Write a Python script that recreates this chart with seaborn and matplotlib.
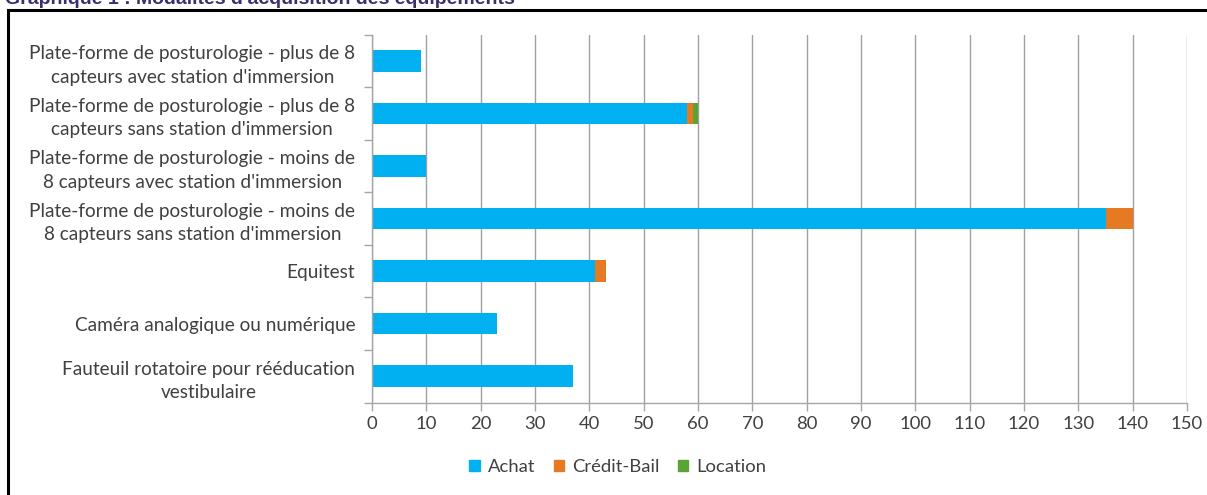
import matplotlib
matplotlib.use("Agg")
import matplotlib.pyplot as plt
import matplotlib.patches as mpatches
from matplotlib.ticker import MultipleLocator, FixedLocator
import seaborn as sns
import pandas as pd
import numpy as np

categories = [
    "Plate-forme de posturologie - plus de 8\ncapteurs avec station d'immersion",
    "Plate-forme de posturologie - plus de 8\ncapteurs sans station d'immersion",
    "Plate-forme de posturologie - moins de\n8 capteurs avec station d'immersion",
    "Plate-forme de posturologie - moins de\n8 capteurs sans station d'immersion",
    "Equitest",
    "Caméra analogique ou numérique",
    "Fauteuil rotatoire pour rééducation\nvestibulaire",
]
achat = [9, 58, 10, 135, 41, 23, 37]
credit_bail = [0, 1, 0, 5, 2, 0, 0]
location = [0, 1, 0, 0, 0, 0, 0]

series_names = ["Achat", "Crédit-Bail", "Location"]
series_colors = ["#00b0f0", "#e67a23", "#58a535"]

sns.set_theme(style="white")
plt.rcParams["font.family"] = ["Lato", "DejaVu Sans"]

df = pd.DataFrame({
    "cat": categories,
    "Achat": achat,
    "Crédit-Bail": credit_bail,
    "Location": location,
})
# cumulative ends for stacking
df["end_achat"] = df["Achat"]
df["end_cb"] = df["Achat"] + df["Crédit-Bail"]
df["end_loc"] = df["end_cb"] + df["Location"]

fig = plt.figure(figsize=(12.07, 4.95), dpi=100)
ax = fig.add_axes([372 / 1207, 1 - 402.5 / 495, (1187 - 372) / 1207, (402.5 - 34.5) / 495])

# draw longest segment first so shorter ones sit on top
for col, color in [("end_loc", series_colors[2]), ("end_cb", series_colors[1]), ("end_achat", series_colors[0])]:
    sns.barplot(data=df, x=col, y="cat", order=categories, color=color,
                width=0.41, saturation=1, orient="h", ax=ax, errorbar=None,
                edgecolor="none", linewidth=0)

ax.set_xlim(0, 150)
ax.set_ylim(6.5, -0.5)
ax.xaxis.set_major_locator(MultipleLocator(10))
ax.set_xlabel("")
ax.set_ylabel("")

ax.grid(axis="x", color="#a0a0a0", linewidth=1)
ax.set_axisbelow(True)
for side in ["top", "right"]:
    ax.spines[side].set_visible(False)
for side in ["left", "bottom"]:
    ax.spines[side].set_color("#a6a6a6")
    ax.spines[side].set_linewidth(1)

ax.tick_params(axis="x", which="major", direction="out", length=6, width=1,
               color="#a6a6a6", labelsize=13.3, labelcolor="#404040", pad=4,
               bottom=True)
ax.tick_params(axis="y", which="major", length=0, labelsize=13.7,
               labelcolor="#404040", pad=12)
ax.yaxis.set_minor_locator(FixedLocator(np.arange(-0.5, 7, 1)))
ax.tick_params(axis="y", which="minor", direction="out", length=6, width=1,
               color="#a6a6a6", left=True)
for lab in ax.get_yticklabels():
    lab.set_multialignment("center")
    lab.set_linespacing(1.45)

handles = [mpatches.Patch(color=c, label=n) for n, c in zip(series_names, series_colors)]
fig.legend(handles=handles, loc="center", bbox_to_anchor=(618 / 1207, 1 - 467 / 495),
           ncol=3, frameon=False, fontsize=13.3, handlelength=0.55, handleheight=0.55,
           handletextpad=0.45, columnspacing=1.0, labelcolor="#404040")

# outer frame around the chart
fig.patches.append(mpatches.Rectangle((8 / 1207, -0.2), 1.1, 1.2 - 10 / 495,
                                      transform=fig.transFigure, fill=False,
                                      edgecolor="black", linewidth=2.2))

fig.text(5 / 1207, 1 - 4 / 495, "Graphique 1 : Modalités d'acquisition des équipements",
         family="Liberation Sans", weight="bold", fontsize=14, color="#3b2d6e",
         ha="left", va="baseline")

fig.savefig("out.png", dpi=100)
